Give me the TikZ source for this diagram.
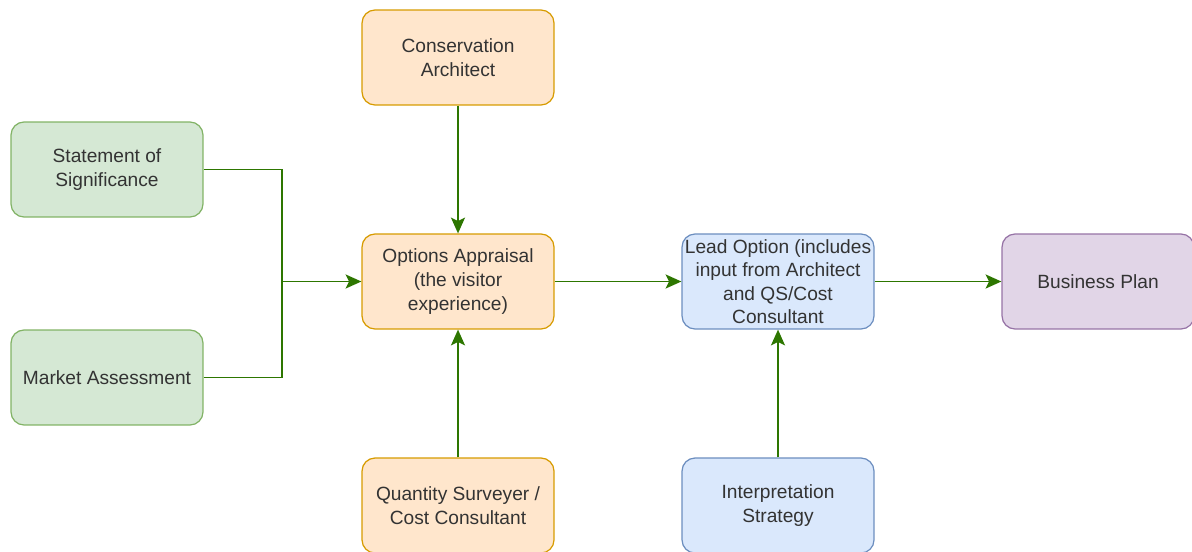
\documentclass[tikz,border=0pt]{standalone}
\usepackage{fontspec}
\setmainfont{Liberation Sans}
\usetikzlibrary{arrows.meta}

\definecolor{greenfill}{HTML}{D5E8D4}
\definecolor{greenline}{HTML}{82B366}
\definecolor{orangefill}{HTML}{FFE6CC}
\definecolor{orangeline}{HTML}{D79B00}
\definecolor{bluefill}{HTML}{DAE8FC}
\definecolor{blueline}{HTML}{6C8EBF}
\definecolor{purplefill}{HTML}{E1D5E7}
\definecolor{purpleline}{HTML}{9673A6}
\definecolor{flowgreen}{HTML}{2D7600}
\definecolor{boxtext}{HTML}{333333}

\tikzset{
  box/.style={draw, rounded corners=0.26cm, line width=0.7pt,
    minimum width=3.84cm, minimum height=1.9cm, align=center,
    text=boxtext, font=\fontsize{10.9}{13.4}\selectfont, inner sep=1pt},
  greenbox/.style={box, fill=greenfill, draw=greenline},
  orangebox/.style={box, fill=orangefill, draw=orangeline},
  bluebox/.style={box, fill=bluefill, draw=blueline},
  purplebox/.style={box, fill=purplefill, draw=purpleline},
  wire/.style={draw=flowgreen, line width=1pt},
  flow/.style={wire,
    -{Stealth[length=9pt, width=8pt, inset=2pt, fill=flowgreen]}}
}

\begin{document}
\begin{tikzpicture}[x=0.02cm, y=-0.02cm]

  \useasboundingbox (0,0) rectangle (1192,551);

  \node[greenbox] (sos) at (107,169.5) {Statement of\\Significance};
  \node[greenbox] (market) at (107,377.5) {Market Assessment};

  \node[orangebox] (cons) at (458,57.5) {Conservation\\Architect};
  \node[orangebox] (options) at (458,281.5) {Options Appraisal\\(the visitor\\experience)};
  \node[orangebox] (qs) at (458,505.5) {Quantity Surveyer /\\Cost Consultant};

  \node[bluebox] (lead) at (778,281.5) {Lead Option (includes\\input from Architect\\and QS/Cost\\Consultant};
  \node[bluebox] (interp) at (778,505.5) {Interpretation\\Strategy};

  \node[purplebox] (plan) at (1098,281.5) {Business Plan};

  \coordinate (join) at (282,281.5);

  % inputs to the options appraisal
  \draw[wire] (sos.east) -| (join);
  \draw[wire] (market.east) -| (join);
  \draw[flow] (join) -- (options.west);
  \draw[flow] (cons) -- (options);
  \draw[flow] (qs) -- (options);

  \draw[flow] (options) -- (lead);
  \draw[flow] (interp) -- (lead);
  \draw[flow] (lead) -- (plan);

\end{tikzpicture}
\end{document}
